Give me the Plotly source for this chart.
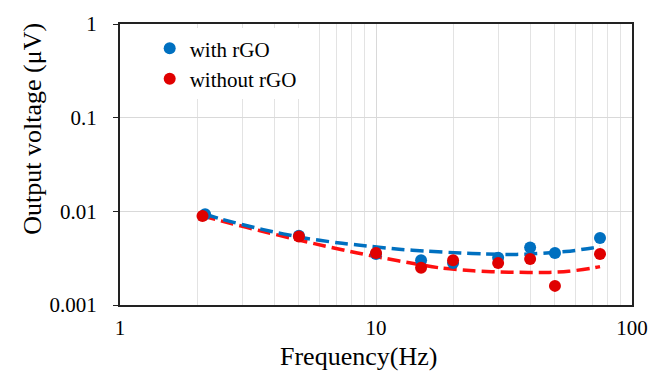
import plotly.graph_objects as go

# ---- data ----
freq_with = [2.15, 5, 10, 15, 20, 30, 40, 50, 75]
volt_with = [0.0093, 0.0055, 0.0035, 0.0030, 0.0028, 0.0032, 0.0041, 0.0036, 0.0052]

freq_without = [2.1, 5, 10, 15, 20, 30, 40, 50, 75]
volt_without = [0.0089, 0.0054, 0.0036, 0.0025, 0.0030, 0.0028, 0.0031, 0.0016, 0.0035]

# dashed trend curves
trend_with_x = [2.15, 2.5, 3.63, 5.25, 7.08, 8.5, 12.3, 15.8, 21.4, 26.3, 35.5, 55, 70, 75]
trend_with_y = [0.00933, 0.00822, 0.00638, 0.00519, 0.00462, 0.00437, 0.00394, 0.00376,
                0.00359, 0.00351, 0.00347, 0.00372, 0.00407, 0.00422]

trend_without_x = [2.1, 2.72, 3.5, 4.7, 6.3, 8.47, 11, 13.5, 18, 24, 33, 47.5, 56.6, 70, 75]
trend_without_y = [0.00891, 0.00741, 0.00624, 0.00513, 0.00427, 0.00359, 0.00313, 0.00282,
                   0.00248, 0.00232, 0.00224, 0.00223, 0.00229, 0.00248, 0.00257]

x_ticks = [1, 10, 100]
x_tick_labels = ["1", "10", "100"]
y_ticks = [0.001, 0.01, 0.1, 1]
y_tick_labels = ["0.001", "0.01", "0.1", "1"]
x_minor = [2, 3, 4, 5, 6, 7, 8, 9, 20, 30, 40, 50, 60, 70, 80, 90]

x_title = "Frequency(Hz)"
y_title = "Output voltage (μV)"

BLUE = "#0070C0"
RED_MARK = "#E00000"
RED_LINE = "#FF1010"
FONT = "Liberation Serif"

fig = go.Figure()

fig.add_trace(go.Scatter(
    x=trend_without_x, y=trend_without_y, mode="lines", showlegend=False,
    line=dict(color=RED_LINE, width=3.5, dash="13px,6px", shape="spline", smoothing=0.8),
    hoverinfo="skip"))
fig.add_trace(go.Scatter(
    x=trend_with_x, y=trend_with_y, mode="lines", showlegend=False,
    line=dict(color=BLUE, width=3.5, dash="13px,6px", shape="spline", smoothing=0.8),
    hoverinfo="skip"))
fig.add_trace(go.Scatter(
    x=freq_with, y=volt_with, mode="markers", name="with rGO", legendrank=1,
    marker=dict(color=BLUE, size=12)))
fig.add_trace(go.Scatter(
    x=freq_without, y=volt_without, mode="markers", name="without rGO", legendrank=2,
    marker=dict(color=RED_MARK, size=12)))

fig.update_layout(
    width=660, height=378,
    margin=dict(l=120, r=19, t=19, b=73),
    paper_bgcolor="white", plot_bgcolor="white",
    font=dict(family=FONT, size=21, color="black"),
    legend=dict(x=0.058, y=0.985, xanchor="left", yanchor="top",
                bgcolor="white", font=dict(family=FONT, size=21, color="black"),
                itemwidth=30, tracegroupgap=0),
    annotations=[
        dict(text=x_title, xref="paper", yref="paper", x=(363 - 120) / 521, y=-(357 - 305) / 286,
             xanchor="center", yanchor="middle", showarrow=False,
             font=dict(family=FONT, size=26, color="black")),
        dict(text=y_title, xref="paper", yref="paper", x=-(120 - 31) / 521, y=(305 - 126) / 286,
             xanchor="center", yanchor="middle", showarrow=False, textangle=-90,
             font=dict(family=FONT, size=26, color="black")),
    ],
)

fig.update_xaxes(
    type="log", range=[0, 2],
    tickvals=x_ticks, ticktext=x_tick_labels,
    showgrid=True, gridcolor="#D9D9D9", gridwidth=1,
    minor=dict(tickvals=x_minor, showgrid=True, gridcolor="#E3E3E3", gridwidth=1, ticks=""),
    showline=True, linecolor="#222222", linewidth=2, mirror=True,
    ticks="", ticklabelstandoff=3,
    tickfont=dict(family=FONT, size=21),
    zeroline=False,
)
fig.update_yaxes(
    type="log", range=[-3, 0],
    tickvals=y_ticks, ticktext=y_tick_labels,
    showgrid=True, gridcolor="#D9D9D9", gridwidth=1,
    showline=True, linecolor="#222222", linewidth=2, mirror=True,
    ticks="outside", ticklen=5, tickcolor="#222222", tickwidth=1,
    ticklabelstandoff=12,
    tickfont=dict(family=FONT, size=21),
    zeroline=False,
)

fig.write_html("out.html")
